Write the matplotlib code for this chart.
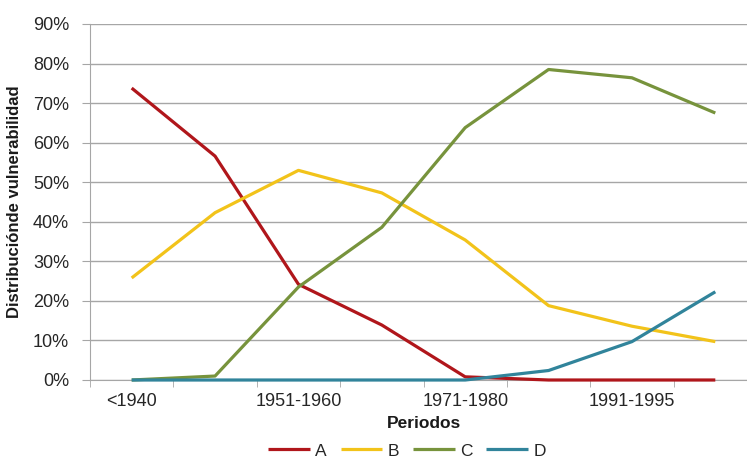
import matplotlib
matplotlib.use('Agg')
import matplotlib.pyplot as plt
import numpy as np
from matplotlib.ticker import FuncFormatter, FixedLocator

plt.rcParams['font.family'] = ['Liberation Sans', 'DejaVu Sans']

### Data
periodos = ['<1940', '1941-1950', '1951-1960', '1961-1970',
            '1971-1980', '1981-1990', '1991-1995', '>1995']
serie_A = [73.8, 56.6, 24.2, 13.9, 0.8, 0.0, 0.0, 0.0]
serie_B = [25.8, 42.3, 53.0, 47.3, 35.4, 18.8, 13.6, 9.7]
serie_C = [0.0, 1.0, 23.5, 38.6, 63.8, 78.5, 76.4, 67.5]
serie_D = [0.0, 0.0, 0.0, 0.0, 0.0, 2.4, 9.7, 22.3]
nombres = ['A', 'B', 'C', 'D']
colores = ['#B0161B', '#F2C31A', '#77933C', '#31849B']

series = [serie_A, serie_B, serie_C, serie_D]
x = np.arange(len(periodos))

### Figure
fig = plt.figure(figsize=(7.47, 4.59), dpi=100)
ax = fig.add_axes([90/747, 1-380/459, 667/747, 356/459])

for i in range(len(series)):
    ax.plot(x, series[i], color=colores[i], linewidth=2.3, label=nombres[i],
            solid_capstyle='butt', zorder=3, clip_on=False)

ax.set_xlim(-0.5, len(periodos)-0.5)
ax.set_ylim(0, 90)
ax.set_yticks(np.arange(0, 91, 10))
ax.yaxis.set_major_formatter(FuncFormatter(lambda v, p: '%d%%' % v))
ax.grid(axis='y', color='#A6A6A6', linewidth=1.0, zorder=1)

# category labels every other period, ticks at boundaries
ax.set_xticks(x[::2])
ax.set_xticklabels(periodos[::2])
ax.xaxis.set_minor_locator(FixedLocator(np.arange(-0.5, len(periodos), 1)))
ax.tick_params(axis='x', which='major', length=0, labelsize=13, pad=9,
               labelcolor='#262626')
ax.tick_params(axis='x', which='minor', length=5, color='#A6A6A6')
ax.tick_params(axis='y', length=6, color='#A6A6A6', labelsize=13, pad=9,
               labelcolor='#262626')

for loc in ['top', 'right']:
    ax.spines[loc].set_visible(False)
ax.spines['left'].set_color('#A6A6A6')
ax.spines['bottom'].set_color('#A6A6A6')

ax.set_xlabel('Periodos', fontsize=12.5, fontweight='bold', labelpad=5,
              color='#1A1A1A')
ax.set_ylabel('Distribuciónde vulnerabilidad', fontsize=12, fontweight='bold',
              color='#1A1A1A', labelpad=8)

leg = fig.legend(loc='center', bbox_to_anchor=(407/747, 1-451/459), ncol=4,
                 frameon=False, fontsize=12.5, handlelength=2.4,
                 handletextpad=0.3, columnspacing=0.8)
for t in leg.get_texts():
    t.set_color('#262626')

fig.savefig('out.png', dpi=100)
